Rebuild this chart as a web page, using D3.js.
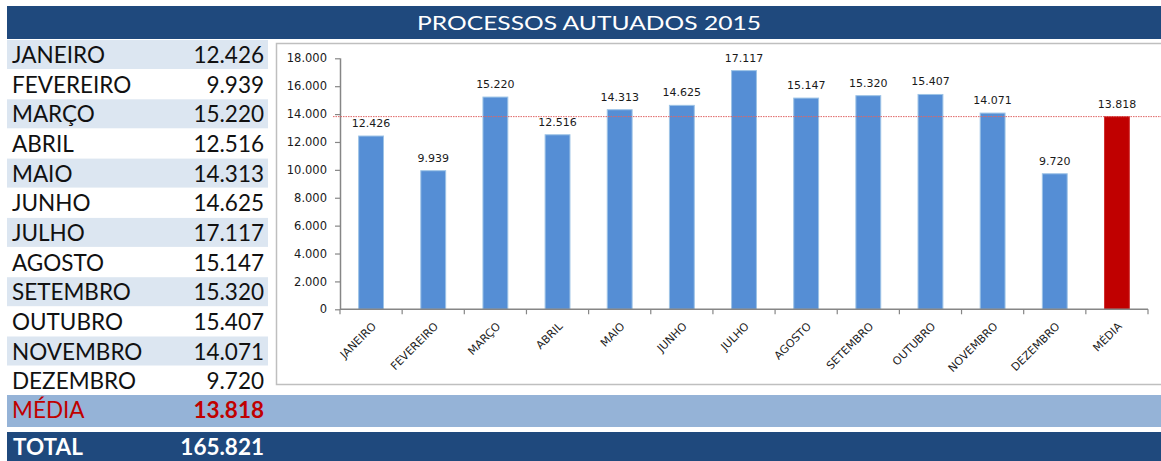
<!DOCTYPE html>
<html>
<head>
<meta charset="utf-8">
<script src="https://cdn.jsdelivr.net/npm/d3@7"></script>
<style>
	body { margin: 0; background: #fff; }
	svg { display: block; }
</style>
</head>
<body>
<svg id="svgChart" width="1161" height="461"></svg>
<script>
var titulo = "PROCESSOS AUTUADOS 2015";
var meses = ["JANEIRO", "FEVEREIRO", "MARÇO", "ABRIL", "MAIO", "JUNHO", "JULHO", "AGOSTO", "SETEMBRO", "OUTUBRO", "NOVEMBRO", "DEZEMBRO"];
var valores = [12426, 9939, 15220, 12516, 14313, 14625, 17117, 15147, 15320, 15407, 14071, 9720];
var mediaLabel = "MÉDIA";
var mediaValor = 13818;
var totalLabel = "TOTAL";
var totalValor = 165821;
var yTicks = [0, 2000, 4000, 6000, 8000, 10000, 12000, 14000, 16000, 18000];

var darkBlue = "#1F497D";
var tableFont = "Lato, 'Open Sans', sans-serif";
var chartFont = "'DejaVu Sans', sans-serif";

var br = d3.formatLocale({decimal: ",", thousands: ".", grouping: [3], currency: ["R$", ""]});
var fmt = br.format(",d");

var svg = d3.select("#svgChart");

// title bar
svg.append("rect")
	.attr("x", 7).attr("y", 6)
	.attr("width", 1154).attr("height", 33)
	.attr("fill", darkBlue);

svg.append("text")
	.attr("x", 417).attr("y", 29.5)
	.attr("textLength", 344)
	.attr("lengthAdjust", "spacingAndGlyphs")
	.attr("fill", "white")
	.style("font-family", tableFont)
	.style("font-size", "20px")
	.text(titulo);

// table
var rowTop = 40, rowStep = 29.65;

var rows = svg.append("g").selectAll(".row")
	.data(meses)
	.enter().append("g")
	.attr("class", "row")
	.attr("transform", function(d, i) { return "translate(0," + (rowTop + i * rowStep) + ")"; });

rows.append("rect")
	.attr("x", 7).attr("width", 261).attr("height", 29)
	.attr("fill", function(d, i) { return i % 2 == 0 ? "#DCE6F1" : "white"; });

rows.append("text")
	.attr("x", 12).attr("y", 23)
	.attr("fill", "#111")
	.style("font-family", tableFont)
	.style("font-size", "22.5px")
	.text(function(d) { return d; });

rows.append("text")
	.attr("x", 264).attr("y", 23)
	.attr("text-anchor", "end")
	.attr("fill", "#111")
	.style("font-family", tableFont)
	.style("font-size", "22.5px")
	.text(function(d, i) { return fmt(valores[i]); });

// media row
svg.append("rect")
	.attr("x", 7).attr("y", 395)
	.attr("width", 1154).attr("height", 32)
	.attr("fill", "#95B3D7");

svg.append("text")
	.attr("x", 12).attr("y", 418)
	.attr("fill", "#C00000")
	.style("font-family", tableFont)
	.style("font-size", "22.5px")
	.text(mediaLabel);

svg.append("text")
	.attr("x", 264).attr("y", 418)
	.attr("text-anchor", "end")
	.attr("fill", "#C00000")
	.style("font-family", tableFont)
	.style("font-size", "22.5px")
	.style("font-weight", "bold")
	.text(fmt(mediaValor));

// total row
svg.append("rect")
	.attr("x", 7).attr("y", 432)
	.attr("width", 1154).attr("height", 29)
	.attr("fill", darkBlue);

svg.append("text")
	.attr("x", 13).attr("y", 455)
	.attr("fill", "white")
	.style("font-family", tableFont)
	.style("font-size", "22.5px")
	.style("font-weight", "bold")
	.text(totalLabel);

svg.append("text")
	.attr("x", 264).attr("y", 455)
	.attr("text-anchor", "end")
	.attr("fill", "white")
	.style("font-family", tableFont)
	.style("font-size", "22.5px")
	.style("font-weight", "bold")
	.text(fmt(totalValor));

// chart box
svg.append("rect")
	.attr("x", 276.5).attr("y", 43.5)
	.attr("width", 900).attr("height", 341)
	.attr("fill", "white")
	.attr("stroke", "#BFBFBF")
	.attr("stroke-width", 1.5);

var margin = {left: 340, top: 58.3};
var width = 808, height = 251;

var g = svg.append("g").attr("transform", "translate(" + margin.left + "," + margin.top + ")");

var categorias = meses.concat([mediaLabel]);
var dados = valores.concat([mediaValor]);

var x = d3.scaleBand()
	.domain(categorias)
	.range([0, width])
	.paddingInner(0.6)
	.paddingOuter(0.3);

var y = d3.scaleLinear()
	.domain([0, 18000])
	.range([height, 0]);

// y axis
var yAxis = g.append("g")
	.call(d3.axisLeft(y).tickValues(yTicks).tickFormat(fmt).tickSize(5).tickPadding(8));
yAxis.select(".domain").attr("stroke", "#868686").attr("stroke-width", 1.5).attr("d", "M0.5," + height + "V0");
yAxis.selectAll(".tick line").attr("stroke", "#868686").attr("stroke-width", 1.2);
yAxis.selectAll(".tick text")
	.attr("fill", "#1a1a1a")
	.style("font-family", chartFont)
	.style("font-size", "11.5px");

// average line
svg.append("line")
	.attr("x1", 333).attr("x2", 1161)
	.attr("y1", margin.top + y(mediaValor)).attr("y2", margin.top + y(mediaValor))
	.attr("stroke", "#E06666")
	.attr("stroke-width", 1)
	.attr("stroke-dasharray", "1.5,1");

// bars
g.selectAll(".bar")
	.data(dados)
	.enter().append("rect")
	.attr("class", "bar")
	.attr("x", function(d, i) { return x(categorias[i]); })
	.attr("y", function(d) { return y(d); })
	.attr("width", x.bandwidth())
	.attr("height", function(d) { return height - y(d); })
	.attr("fill", function(d, i) { return i == dados.length - 1 ? "#C00000" : "#558ED5"; })
	.attr("stroke", function(d, i) { return i == dados.length - 1 ? "#D03030" : "#9DC3E6"; })
	.attr("stroke-width", 1);

// value labels
g.selectAll(".lbl")
	.data(dados)
	.enter().append("text")
	.attr("class", "lbl")
	.attr("x", function(d, i) { return x(categorias[i]) + x.bandwidth() / 2; })
	.attr("y", function(d) { return y(d) - 9; })
	.attr("text-anchor", "middle")
	.attr("fill", "#1a1a1a")
	.style("font-family", chartFont)
	.style("font-size", "11px")
	.text(function(d) { return fmt(d); });

// x axis
var xAxisG = g.append("g").attr("transform", "translate(0," + height + ")");
xAxisG.append("line")
	.attr("x1", 0).attr("x2", width)
	.attr("stroke", "#868686").attr("stroke-width", 1.5);

var step = x.step();
xAxisG.selectAll(".xtick")
	.data(d3.range(categorias.length + 1))
	.enter().append("line")
	.attr("class", "xtick")
	.attr("x1", function(d) { return d * step; })
	.attr("x2", function(d) { return d * step; })
	.attr("y1", 0).attr("y2", 5)
	.attr("stroke", "#868686").attr("stroke-width", 1.2);

xAxisG.selectAll(".xlbl")
	.data(categorias)
	.enter().append("text")
	.attr("class", "xlbl")
	.attr("transform", function(d) { return "translate(" + (x(d) + x.bandwidth() / 2 + 3) + ",15) rotate(-45)"; })
	.attr("text-anchor", "end")
	.attr("dy", "0.35em")
	.attr("fill", "#1a1a1a")
	.style("font-family", chartFont)
	.style("font-size", "11px")
	.text(function(d) { return d; });
</script>
</body>
</html>
